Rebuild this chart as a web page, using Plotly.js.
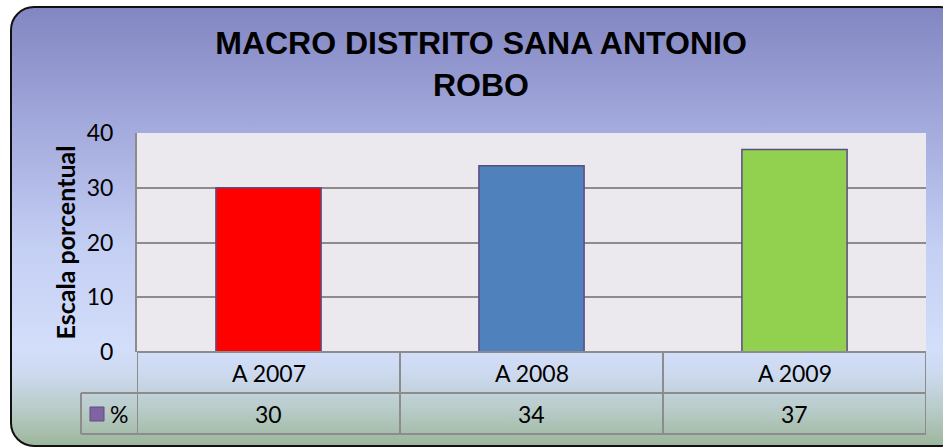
<!DOCTYPE html>
<html>
<head>
<meta charset="utf-8">
<script src="https://cdn.plot.ly/plotly-3.0.1.min.js"></script>
<style>
  html, body { margin:0; padding:0; background:#ffffff; }
  #wrap { position:relative; width:943px; height:447px; overflow:hidden; }
  #frame { position:absolute; left:10px; top:6px; width:950px; height:437px;
    border:2px solid #111; border-radius:24px;
    background: linear-gradient(to bottom, #8286C2 0%, #A4ABDD 28%, #C4CFF4 55%, #D3DEFA 78%, #CCD9EE 84%, #B8CBC8 92%, #9DB79C 100%); }
  #chart { position:absolute; left:0; top:0; width:943px; height:447px; }
</style>
</head>
<body>
<div id="wrap">
  <div id="frame"></div>
  <div id="chart"></div>
</div>
<script>
// ---- data ----
const categories = ['A 2007', 'A 2008', 'A 2009'];
const values = [30, 34, 37];
const seriesName = '%';
const yTicks = [0, 10, 20, 30, 40];
const chartTitle = 'MACRO DISTRITO SANA ANTONIO<br>ROBO';
const yTitle = 'Escala porcentual';

// ---- style ----
const barColors = ['#FF0000', '#4F81BD', '#92D050'];
const gridColor = '#8C8C8C';
const tickFont = {family: 'Lato, "Open Sans", sans-serif', size: 23, color: '#000'};

const xIdx = categories.map((_, i) => i);

const trace = {
  type: 'bar',
  x: xIdx,
  y: values,
  name: seriesName,
  marker: {color: barColors, line: {color: '#5D4C82', width: 1.5}},
  width: 0.4,
  hoverinfo: 'none'
};

// table geometry (paper coords relative to plot area 137..926 x, 133..352 y)
const plotH = 219, plotW = 789;
const row1 = -41 / plotH, row2 = -82 / plotH;
const legendLeft = (81 - 137) / plotW;

const shapes = [];
const lineStyle = {color: gridColor, width: 2};
shapes.push({type: 'line', xref: 'x', yref: 'paper', x0: -0.5, x1: categories.length - 0.5, y0: 0, y1: 0, line: lineStyle});
shapes.push({type: 'line', xref: 'paper', yref: 'paper', x0: legendLeft, x1: 1, y0: row1, y1: row1, line: lineStyle});
shapes.push({type: 'line', xref: 'paper', yref: 'paper', x0: legendLeft, x1: 1, y0: row2, y1: row2, line: lineStyle});
for (let i = 0; i <= categories.length; i++) {
  shapes.push({type: 'line', xref: 'x', yref: 'paper', x0: i - 0.5, x1: i - 0.5, y0: 0, y1: row2, line: lineStyle});
}
shapes.push({type: 'line', xref: 'paper', yref: 'paper', x0: legendLeft, x1: legendLeft, y0: row1, y1: row2, line: lineStyle});
shapes.push({type: 'rect', xref: 'paper', yref: 'paper',
  x0: (90 - 137) / plotW, x1: (104 - 137) / plotW,
  y0: (352 - 407) / plotH, y1: (352 - 421) / plotH,
  fillcolor: '#8064A2', line: {color: '#5D4C82', width: 1}});

const annotations = [];
categories.forEach((c, i) => {
  annotations.push({x: i, y: (row1) / 2, xref: 'x', yref: 'paper', text: c, showarrow: false,
    font: tickFont, xanchor: 'center', yanchor: 'middle'});
  annotations.push({x: i, y: (row1 + row2) / 2, xref: 'x', yref: 'paper', text: String(values[i]), showarrow: false,
    font: tickFont, xanchor: 'center', yanchor: 'middle'});
});
annotations.push({x: (119 - 137) / plotW, y: (row1 + row2) / 2, xref: 'paper', yref: 'paper', text: seriesName,
  showarrow: false, font: tickFont, xanchor: 'center', yanchor: 'middle'});

const layout = {
  width: 943, height: 447,
  margin: {l: 137, r: 17, t: 133, b: 95},
  paper_bgcolor: 'rgba(0,0,0,0)',
  plot_bgcolor: '#ECE9EE',
  showlegend: false,
  title: {
    text: chartTitle,
    font: {family: '"Liberation Sans", Arial, sans-serif', size: 32, color: '#000', weight: 'bold'},
    x: 481 / 943, xanchor: 'center', xref: 'container',
    y: 1 - 54 / 447, yanchor: 'top', yref: 'container'
  },
  xaxis: {
    range: [-0.5, categories.length - 0.5],
    showticklabels: false, showgrid: false, zeroline: false, showline: false, ticks: '',
    fixedrange: true
  },
  yaxis: {
    range: [0, 40],
    tickvals: yTicks,
    tickfont: tickFont,
    ticklabelstandoff: 17,
    showgrid: true, gridcolor: gridColor, gridwidth: 2,
    zeroline: false,
    showline: true, linecolor: gridColor, linewidth: 2,
    ticks: '',
    title: {text: yTitle, font: {family: 'Lato, "Open Sans", sans-serif', size: 25, color: '#000', weight: 'bold'}, standoff: 4},
    fixedrange: true
  },
  shapes: shapes,
  annotations: annotations
};

Plotly.newPlot('chart', [trace], layout, {staticPlot: true, displayModeBar: false});
</script>
</body>
</html>
